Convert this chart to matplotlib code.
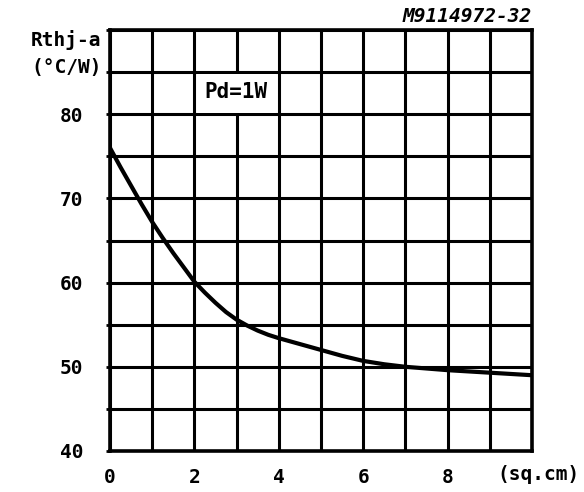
import matplotlib
matplotlib.use("Agg")
import matplotlib.pyplot as plt
from matplotlib.patches import Rectangle

# copper area (sq.cm) vs junction-to-ambient thermal resistance (°C/W)
area = [0, 0.25, 0.5, 0.75, 1, 1.25, 1.5, 1.75, 2, 2.25, 2.5, 2.75, 3, 3.25,
        3.5, 3.75, 4, 4.5, 5, 5.5, 6, 6.5, 7, 7.5, 8, 9, 10]
rthja = [76.0, 73.7, 71.5, 69.3, 67.2, 65.3, 63.5, 61.8, 60.1, 58.8, 57.6, 56.5,
         55.6, 54.9, 54.3, 53.8, 53.4, 52.7, 52.0, 51.3, 50.7, 50.3, 50.0, 49.8,
         49.6, 49.3, 49.0]

x_ticks = [0, 1, 2, 3, 4, 5, 6, 7, 8, 9, 10]
x_labels = ['0', '', '2', '', '4', '', '6', '', '8', '', '']
y_ticks = [40, 45, 50, 55, 60, 65, 70, 75, 80, 85, 90]
y_labels = ['40', '', '50', '', '60', '', '70', '', '80', '', '']

mono = 'DejaVu Sans Mono'

fig = plt.figure(figsize=(5.84, 4.92), dpi=100)
ax = fig.add_axes([110/584, 1 - 451/492, 422/584, 421/492])

ax.plot(area, rthja, color='black', lw=3.0, solid_joinstyle='round', zorder=4)

ax.set_xlim(0, 10)
ax.set_ylim(40, 90)
ax.set_xticks(x_ticks)
ax.set_xticklabels(x_labels)
ax.set_yticks(y_ticks)
ax.set_yticklabels(y_labels)
ax.grid(True, color='black', lw=2.2)
ax.set_axisbelow(True)
for s in ax.spines.values():
    s.set_linewidth(2.6)

ax.tick_params(axis='y', length=3, width=2, pad=16)
ax.tick_params(axis='x', length=0, pad=12)
for lbl in ax.get_xticklabels() + ax.get_yticklabels():
    lbl.set_fontfamily(mono)
    lbl.set_fontweight('bold')
    lbl.set_fontsize(14)

# axis captions
ax.text(-0.2, 88.8, 'Rthj-a', family=mono, weight='bold', fontsize=14,
        ha='right', va='center')
ax.text(-0.2, 85.6, '(°C/W)', family=mono, weight='bold', fontsize=14,
        ha='right', va='center')
fig.text(580/584, 1 - 475/492, '(sq.cm)', family=mono, weight='bold',
         fontsize=14, ha='right', va='center')

# test condition, on a blanked-out grid cell
ax.add_patch(Rectangle((2.06, 80.2), 1.88, 4.6, fc='white', ec='none', zorder=3))
ax.text(2.98, 82.6, 'Pd=1W', family=mono, weight='bold', fontsize=15,
        ha='center', va='center', zorder=5)

# drawing reference
fig.text(532/584, 1 - 16/492, 'M9114972-32', family=mono, weight='bold',
         style='italic', fontsize=14, ha='right', va='center')

fig.savefig('out.png', dpi=100)
